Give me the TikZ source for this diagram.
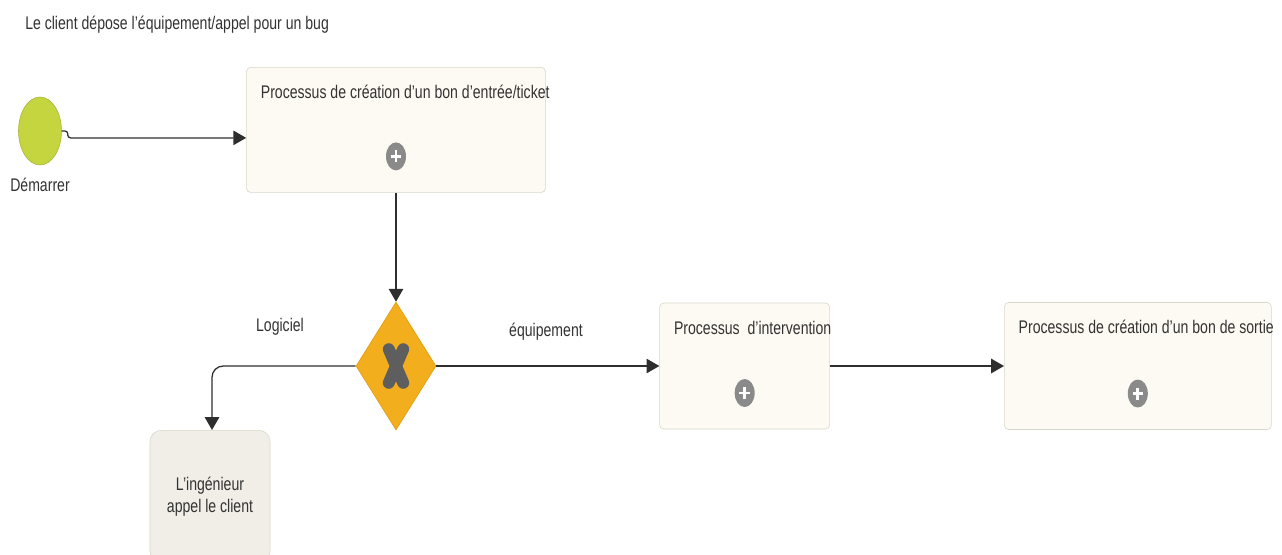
\documentclass[tikz,border=0pt]{standalone}
\usepackage{fontspec}
\setmainfont[FakeStretch=0.77]{Liberation Sans}
\usetikzlibrary{arrows.meta, positioning, shapes.geometric}

\definecolor{taskfill}{HTML}{FCFAF2}
\definecolor{taskline}{HTML}{D9D6CB}
\definecolor{manfill}{HTML}{F0EEE7}
\definecolor{startfill}{HTML}{C5D53F}
\definecolor{startline}{HTML}{A9B33A}
\definecolor{gwfill}{HTML}{F2AE1C}
\definecolor{gwline}{HTML}{E09A10}
\definecolor{markgray}{HTML}{5E5E5E}
\definecolor{plusgray}{HTML}{8A8A8A}
\definecolor{linegray}{HTML}{2E2E2E}
\definecolor{textgray}{HTML}{333333}

\begin{document}
\begin{tikzpicture}[
    x=0.025cm, y=-0.025cm,
    task/.style={rectangle, draw=taskline, rounded corners=3pt, fill=taskfill},
    manual/.style={rectangle, draw=taskline, rounded corners=8pt, fill=manfill, minimum width=3cm, minimum height=3.3cm, align=center, font=\fontsize{13}{15.5}\selectfont, text=textgray},
    tasktext/.style={font=\fontsize{13}{15}\selectfont, text=textgray, inner sep=0pt},
    flowlabel/.style={font=\fontsize{13}{15}\selectfont, text=textgray, inner sep=0pt},
    startevent/.style={ellipse, draw=startline, fill=startfill, minimum width=1.075cm, minimum height=1.7cm},
    gateway/.style={diamond, draw=gwline, fill=gwfill, minimum width=2cm, minimum height=3.2cm, inner sep=0pt,
        path picture={\draw[markgray, line width=8.5pt, line cap=round]
            ([xshift=-0.18cm, yshift=0.42cm]path picture bounding box.center) -- ([xshift=0.18cm, yshift=-0.42cm]path picture bounding box.center)
            ([xshift=0.18cm, yshift=0.42cm]path picture bounding box.center) -- ([xshift=-0.18cm, yshift=-0.42cm]path picture bounding box.center);}},
    plusicon/.style={ellipse, fill=plusgray, minimum width=0.5cm, minimum height=0.7cm, inner sep=0pt,
        path picture={\draw[white, line width=2pt]
            ([xshift=-0.13cm]path picture bounding box.center) -- ([xshift=0.13cm]path picture bounding box.center)
            ([yshift=-0.15cm]path picture bounding box.center) -- ([yshift=0.15cm]path picture bounding box.center);}},
    arrow/.style={-{Triangle[length=0.32cm, width=0.36cm]}, line width=0.9pt, draw=linegray}
]
\path[use as bounding box, clip] (0,0) rectangle (1282,554);

% ==== Title ====
\node[flowlabel, anchor=west] (title) at (25,25) {Le client dépose l'équipement/appel pour un bug};

% ==== Start event ====
\node[startevent] (start) at (40,131) {};
\node[flowlabel, below=0.3cm of start] (startlbl) {Démarrer};

% ==== Gateway and tasks ====
\node[gateway] (gw) at (396,366) {};
\node[task, minimum width=7.475cm, minimum height=3.125cm, above=2.725cm of gw] (entree) {};
\node[task, minimum width=4.25cm, minimum height=3.15cm, right=5.575cm of gw] (inter) {};
\node[task, minimum width=6.675cm, minimum height=3.175cm, right=4.35cm of inter] (sortie) {};
\node[manual, anchor=north] (ingenieur) at (210,430) {L'ingénieur\\appel le client};

% ==== Task texts and icons ====
\node[tasktext, below right=0.45cm and 0.36cm of entree.north west] (entreetxt) {Processus de création d'un bon d'entrée/ticket};
\node[plusicon, above=0.55cm of entree.south] (entreeplus) {};
\node[tasktext, below right=0.45cm and 0.36cm of inter.north west] (intertxt) {Processus\ \ d'intervention};
\node[plusicon, above=0.55cm of inter.south] (interplus) {};
\node[tasktext, below right=0.45cm and 0.36cm of sortie.north west] (sortietxt) {Processus de création d'un bon de sortie};
\node[plusicon, above=0.55cm of sortie.south] (sortieplus) {};

% ==== Arrows ====
\draw[arrow, rounded corners=2pt] (start.east) -- ++(6,0) |- ([yshift=-0.2cm]entree.west);
\draw[arrow] (entree) -- (gw);
\draw[arrow, rounded corners=8pt] (gw.west) -| ([xshift=0.05cm]ingenieur.north);
\draw[arrow] (gw) -- (inter);
\draw[arrow] (inter) -- (sortie);

% ==== Flow labels ====
\node[flowlabel] (logiciel) at (280,327) {Logiciel};
\node[flowlabel] (equip) at (546,332) {équipement};

\end{tikzpicture}
\end{document}
